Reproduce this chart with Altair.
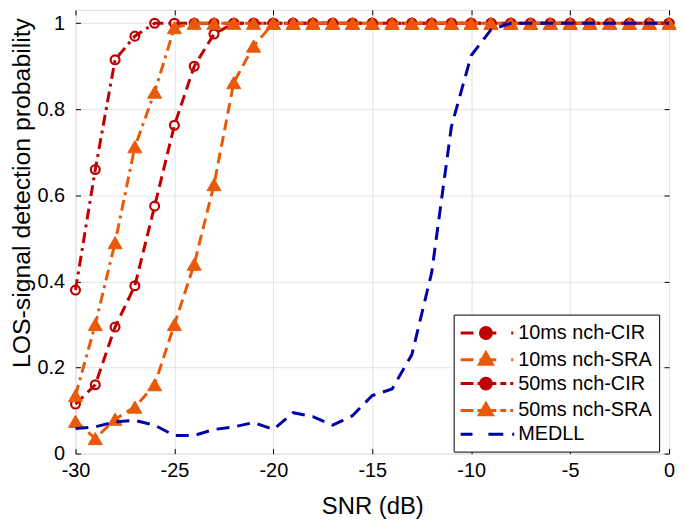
import altair as alt
import pandas as pd

# ---------------- data ----------------
snr = [-30, -29, -28, -27, -26, -25, -24, -23, -22, -21, -20, -19, -18, -17, -16,
       -15, -14, -13, -12, -11, -10, -9, -8, -7, -6, -5, -4, -3, -2, -1, 0]

cir10 = [0.115, 0.16, 0.294, 0.39, 0.575, 0.763, 0.90, 0.975, 1.0, 1.0, 1.0, 1.0, 1.0, 1.0, 1.0,
         1.0, 1.0, 1.0, 1.0, 1.0, 1.0, 1.0, 1.0, 1.0, 1.0, 1.0, 1.0, 1.0, 1.0, 1.0, 1.0]
sra10 = [0.075, 0.035, 0.08, 0.108, 0.16, 0.30, 0.44, 0.625, 0.862, 0.947, 1.0, 1.0, 1.0, 1.0, 1.0,
         1.0, 1.0, 1.0, 1.0, 1.0, 1.0, 1.0, 1.0, 1.0, 1.0, 1.0, 1.0, 1.0, 1.0, 1.0, 1.0]
cir50 = [0.38, 0.66, 0.915, 0.97, 1.0, 1.0, 1.0, 1.0, 1.0, 1.0, 1.0, 1.0, 1.0, 1.0, 1.0,
         1.0, 1.0, 1.0, 1.0, 1.0, 1.0, 1.0, 1.0, 1.0, 1.0, 1.0, 1.0, 1.0, 1.0, 1.0, 1.0]
sra50 = [0.135, 0.30, 0.49, 0.713, 0.84, 0.99, 1.0, 1.0, 1.0, 1.0, 1.0, 1.0, 1.0, 1.0, 1.0,
         1.0, 1.0, 1.0, 1.0, 1.0, 1.0, 1.0, 1.0, 1.0, 1.0, 1.0, 1.0, 1.0, 1.0, 1.0, 1.0]
medll = [0.058, 0.062, 0.074, 0.077, 0.066, 0.042, 0.042, 0.056, 0.062, 0.072, 0.056, 0.095, 0.086, 0.066, 0.088,
         0.135, 0.15, 0.23, 0.42, 0.76, 0.925, 0.985, 1.0, 1.0, 1.0, 1.0, 1.0, 1.0, 1.0, 1.0, 1.0]

names = ["10ms nch-CIR", "10ms nch-SRA", "50ms nch-CIR", "50ms nch-SRA", "MEDLL"]
x_ticks = [-30, -25, -20, -15, -10, -5, 0]
y_ticks = [0, 0.2, 0.4, 0.6, 0.8, 1]

# ---------------- styles ----------------
RED = "#C00000"
ORANGE = "#E85A0A"
BLUE = "#0000AA"
GRID = "#E3E3E3"
FONT = "Liberation Sans"
colors = [RED, ORANGE, RED, ORANGE, BLUE]
dash10 = [11, 6]
dash50 = [11, 5, 3, 5]
dash_medll = [13, 8]

# legend symbols: line sample + marker (units of sqrt(symbolSize)/2 = 10 px)
circ = "M1.95,0A0.55,0.55,0,1,1,0.85,0A0.55,0.55,0,1,1,1.95,0Z"
tri = "M1.4,-0.7L2.05,0.45L0.75,0.45Z"
p10 = "M-1.15,0L0.15,0M0.75,0L2.45,0M3.95,0L4.15,0"
p50 = "M-1.15,0L0.15,0M0.55,0L2.45,0M2.85,0L3.45,0M3.85,0L4.15,0"
pmed = "M-1.15,0L0.05,0M1.65,0L3.15,0M4.05,0L4.25,0"
paths = [p10 + circ, p10 + tri, p50 + circ, p50 + tri, pmed]

W, H = 598, 447

rows = []
for name, vals in zip(names, [cir10, sra10, cir50, sra50, medll]):
    for s, v in zip(snr, vals):
        rows.append({"snr": s, "p": v, "series": name})
df = pd.DataFrame(rows)

xs = alt.Scale(domain=[-30, 0], nice=False, zero=False)
ys = alt.Scale(domain=[0, 1.031], nice=False, zero=False)
X = alt.X("snr:Q", scale=xs, axis=None)
Y = alt.Y("p:Q", scale=ys, axis=None)


def series_layers(name, color, dash, shape):
    base = alt.Chart(df).transform_filter(alt.datum.series == name)
    layers = [base.mark_line(color=color, strokeWidth=3, strokeDash=dash,
                             strokeCap="butt").encode(x=X, y=Y)]
    if shape == "circle":
        layers.append(base.mark_point(shape="circle", filled=False, color=color,
                                      strokeWidth=2.2, size=80, opacity=1).encode(x=X, y=Y))
    elif shape == "triangle":
        layers.append(base.mark_point(shape="triangle-up", filled=True, color=color,
                                      stroke=color, strokeWidth=1, size=200,
                                      opacity=1).encode(x=X, y=Y))
    return layers


# axis layer: labels, titles, grid
axis_layer = alt.Chart(df).mark_point(opacity=0).encode(
    x=alt.X("snr:Q", scale=xs, title="SNR (dB)",
            axis=alt.Axis(orient="bottom", values=x_ticks, labelExpr="'' + datum.value",
                          grid=True, gridColor=GRID, gridWidth=1, ticks=False, domain=False,
                          labelFlush=False, labelOverlap=False,
                          labelPadding=7, labelFont=FONT, labelFontSize=20, labelColor="black",
                          titleFont=FONT, titleFontSize=24, titleFontWeight="normal",
                          titleColor="black", titleY=53, titleBaseline="middle")),
    y=alt.Y("p:Q", scale=ys, title="LOS-signal detection probability",
            axis=alt.Axis(orient="left", values=y_ticks, labelExpr="'' + datum.value",
                          grid=True, gridColor=GRID, gridWidth=1, ticks=False, domain=False,
                          labelFlush=False, labelOverlap=False,
                          labelPadding=11, labelFont=FONT, labelFontSize=20, labelColor="black",
                          titleFont=FONT, titleFontSize=25, titleFontWeight="normal",
                          titleColor="black", titleX=-66, titleY=184,
                          titleBaseline="top", titleAlign="center")),
)

# inside ticks (bottom / left pointing inward)
ticks_a = alt.Chart(df).mark_point(opacity=0).encode(
    x=alt.X("snr:Q", scale=xs, title=None,
            axis=alt.Axis(orient="top", offset=-H, values=x_ticks, labels=False, domain=False,
                          grid=False, tickSize=5, tickColor="black", tickWidth=1)),
    y=alt.Y("p:Q", scale=ys, title=None,
            axis=alt.Axis(orient="right", offset=-W, values=y_ticks, labels=False, domain=False,
                          grid=False, tickSize=5, tickColor="black", tickWidth=1)),
)
# inside ticks (top / right pointing inward)
ticks_b = alt.Chart(df).mark_point(opacity=0).encode(
    x=alt.X("snr:Q", scale=xs, title=None,
            axis=alt.Axis(orient="bottom", offset=-H, values=x_ticks, labels=False, domain=False,
                          grid=False, tickSize=5, tickColor="black", tickWidth=1)),
    y=alt.Y("p:Q", scale=ys, title=None,
            axis=alt.Axis(orient="left", offset=-W, values=y_ticks, labels=False, domain=False,
                          grid=False, tickSize=5, tickColor="black", tickWidth=1)),
)

leg = alt.Legend(title=None, orient="none", legendX=381, legendY=307,
                 symbolSize=400, symbolStrokeWidth=3, labelFont=FONT, labelFontSize=20,
                 labelColor="black", labelLimit=0, labelOffset=35, padding=7, rowPadding=2,
                 fillColor="white", strokeColor="black", symbolOpacity=1)
legend_df = pd.DataFrame({"series": names})
legend_layer = alt.Chart(legend_df).mark_point(filled=True, opacity=1).encode(
    fill=alt.Fill("series:N", scale=alt.Scale(domain=names, range=colors), legend=leg),
    stroke=alt.Stroke("series:N", scale=alt.Scale(domain=names, range=colors), legend=leg),
    shape=alt.Shape("series:N", scale=alt.Scale(domain=names, range=paths), legend=leg),
).transform_filter("false")

layers = [axis_layer, ticks_a, ticks_b]
layers += series_layers(names[0], RED, dash10, "circle")
layers += series_layers(names[1], ORANGE, dash10, "triangle")
layers += series_layers(names[2], RED, dash50, "circle")
layers += series_layers(names[3], ORANGE, dash50, "triangle")
layers += series_layers(names[4], BLUE, dash_medll, None)
layers.append(legend_layer)

chart = alt.layer(*layers).resolve_axis(x="independent", y="independent").properties(
    width=W, height=H,
    autosize=alt.AutoSizeParams(type="none"),
    padding={"left": 68, "top": 0, "right": 8, "bottom": 65},
).configure_view(stroke="black", strokeWidth=1).configure(background="white")

chart.save("out.html", embed_options={"renderer": "svg", "actions": False})
